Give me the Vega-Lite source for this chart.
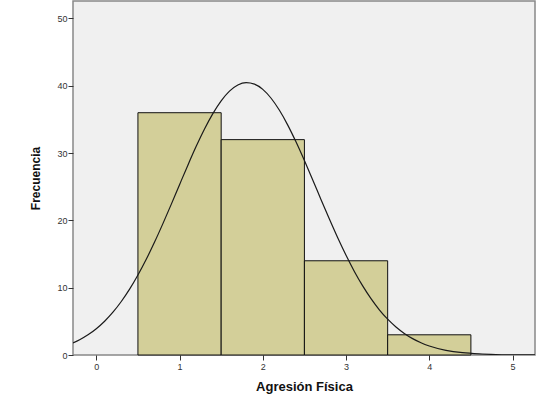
{
  "$schema": "https://vega.github.io/schema/vega-lite/v6.json",
  "width": 462,
  "height": 354,
  "autosize": "none",
  "padding": {"left": 73, "top": 1, "right": 21, "bottom": 47},
  "background": "white",
  "config": {
    "view": {"fill": "#f0f0f0", "stroke": "#888888", "strokeWidth": 1.5},
    "axis": {"grid": false, "domain": false, "tickColor": "#333333", "tickSize": 5, "labelColor": "#333333", "labelFont": "Liberation Sans", "labelFontSize": 9, "titleFont": "Liberation Sans", "titleColor": "#111111", "titleFontWeight": "bold"}
  },
  "datasets": {
    "bins": [
      {"lo": 0.5, "hi": 1.5, "count": 36},
      {"lo": 1.5, "hi": 2.5, "count": 32},
      {"lo": 2.5, "hi": 3.5, "count": 14},
      {"lo": 3.5, "hi": 4.5, "count": 3}
    ],
    "curve": [
      {"x": -0.28, "y": 1.79}, {"x": -0.2, "y": 2.27}, {"x": -0.1, "y": 3.0}, {"x": 0.0, "y": 3.91},
      {"x": 0.1, "y": 5.02}, {"x": 0.2, "y": 6.36}, {"x": 0.3, "y": 7.95}, {"x": 0.4, "y": 9.78},
      {"x": 0.5, "y": 11.88}, {"x": 0.6, "y": 14.22}, {"x": 0.7, "y": 16.78}, {"x": 0.8, "y": 19.52},
      {"x": 0.9, "y": 22.38}, {"x": 1.0, "y": 25.31}, {"x": 1.1, "y": 28.21}, {"x": 1.2, "y": 31.0},
      {"x": 1.3, "y": 33.58}, {"x": 1.4, "y": 35.86}, {"x": 1.5, "y": 37.76}, {"x": 1.6, "y": 39.2},
      {"x": 1.7, "y": 40.11}, {"x": 1.8, "y": 40.47}, {"x": 1.9, "y": 40.25}, {"x": 2.0, "y": 39.47},
      {"x": 2.1, "y": 38.15}, {"x": 2.2, "y": 36.36}, {"x": 2.3, "y": 34.16}, {"x": 2.4, "y": 31.64},
      {"x": 2.5, "y": 28.89}, {"x": 2.6, "y": 26.01}, {"x": 2.7, "y": 23.08}, {"x": 2.8, "y": 20.2},
      {"x": 2.9, "y": 17.42}, {"x": 3.0, "y": 14.82}, {"x": 3.1, "y": 12.42}, {"x": 3.2, "y": 10.27},
      {"x": 3.3, "y": 8.37}, {"x": 3.4, "y": 6.72}, {"x": 3.5, "y": 5.32}, {"x": 3.6, "y": 4.16},
      {"x": 3.7, "y": 3.2}, {"x": 3.8, "y": 2.43}, {"x": 3.9, "y": 1.82}, {"x": 4.0, "y": 1.34},
      {"x": 4.2, "y": 0.7}, {"x": 4.4, "y": 0.34}, {"x": 4.6, "y": 0.16}, {"x": 4.8, "y": 0.07},
      {"x": 5.0, "y": 0.03}, {"x": 5.27, "y": 0.01}
    ]
  },
  "layer": [
    {
      "data": {"name": "bins"},
      "mark": {"type": "rect", "fill": "#d3cf99", "stroke": "#111111", "strokeWidth": 1},
      "encoding": {
        "x": {"field": "lo", "type": "quantitative", "scale": {"domain": [-0.28, 5.27], "nice": false, "zero": false},
              "axis": {"values": [0, 1, 2, 3, 4, 5], "format": "d", "title": "Agresión Física", "titleFontSize": 13, "titlePadding": 9, "labelPadding": 2}},
        "x2": {"field": "hi"},
        "y": {"field": "count", "type": "quantitative", "scale": {"domain": [0, 52.6], "nice": false},
              "axis": {"values": [0, 10, 20, 30, 40, 50], "format": "d", "title": "Frecuencia", "titleFontSize": 12, "titleFont": "Liberation Sans Narrow, Liberation Sans", "titlePadding": 14, "labelPadding": 1}},
        "y2": {"datum": 0}
      }
    },
    {
      "data": {"name": "curve"},
      "mark": {"type": "line", "color": "#1a1a1a", "strokeWidth": 1.2, "interpolate": "monotone", "clip": true},
      "encoding": {
        "x": {"field": "x", "type": "quantitative"},
        "y": {"field": "y", "type": "quantitative"}
      }
    }
  ]
}
